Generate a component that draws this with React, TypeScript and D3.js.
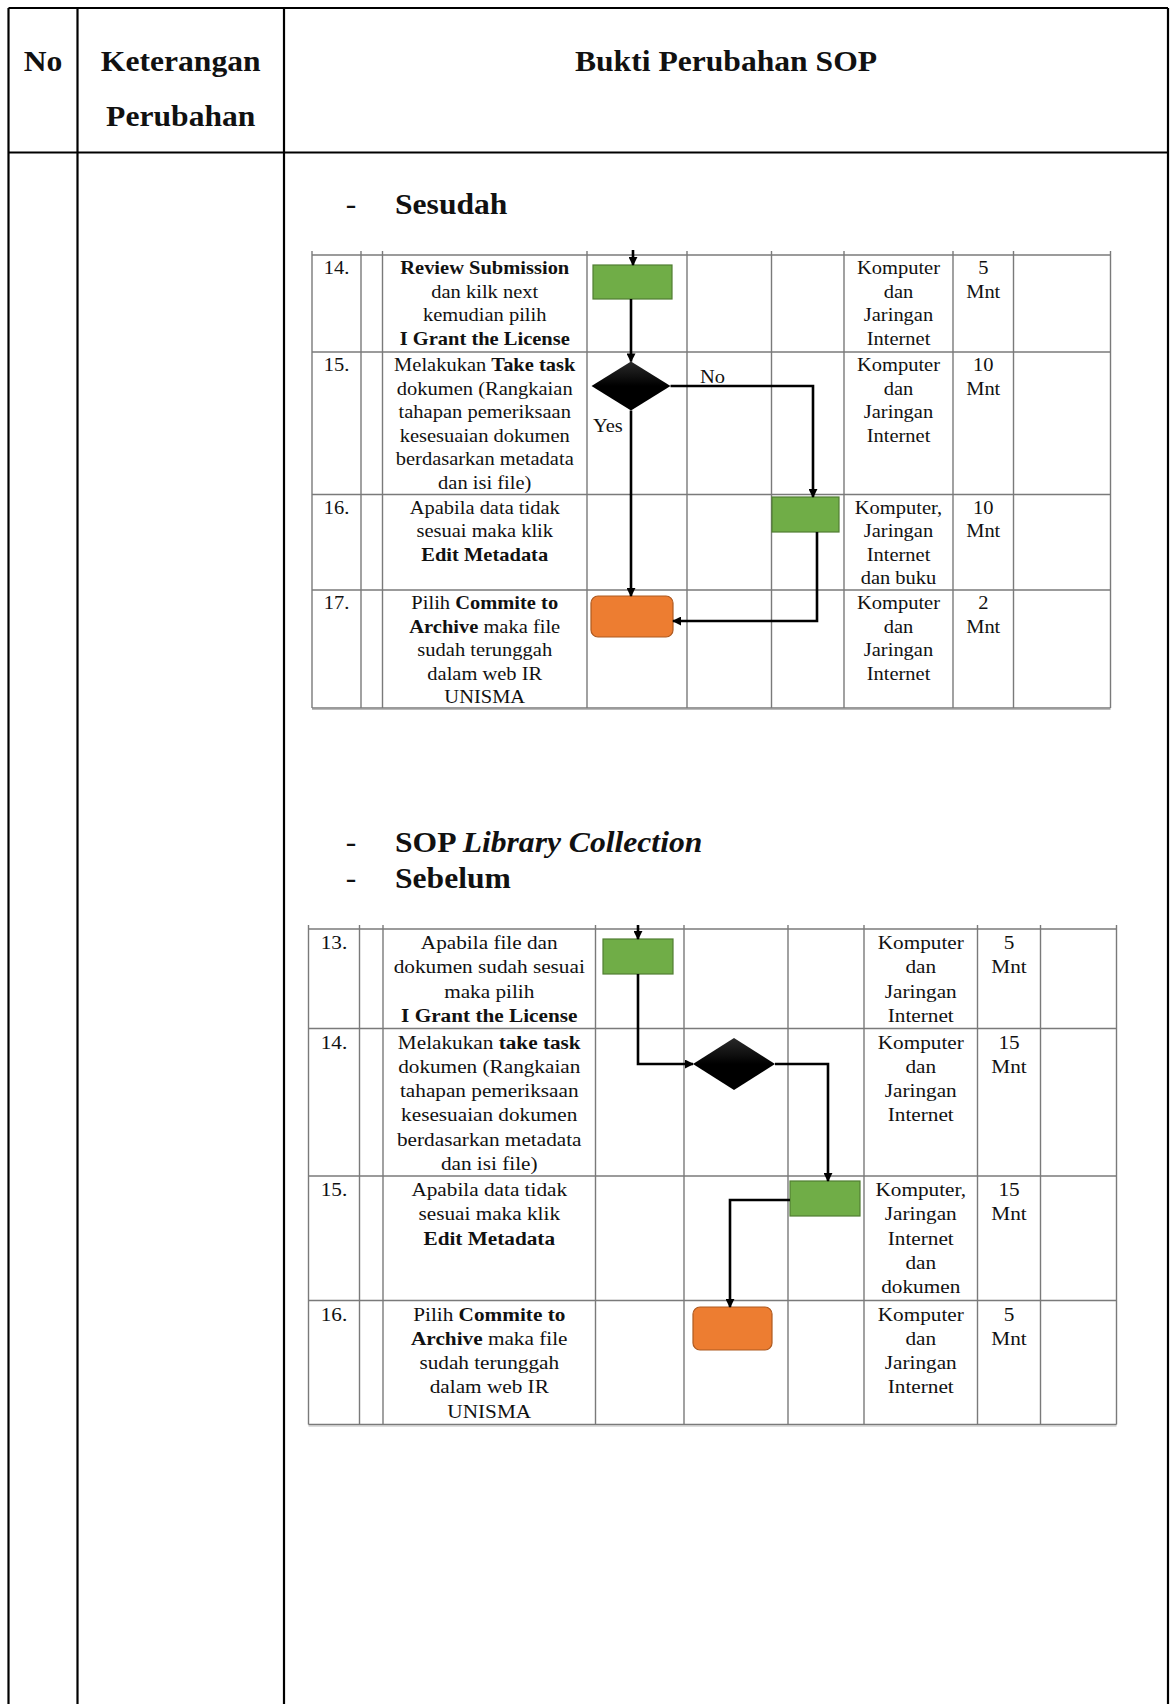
import React from "react";
import * as d3 from "d3";

// ---------- data ----------
const headerLabels = ["No", "Keterangan", "Perubahan", "Bukti Perubahan SOP"];
const sectionAfter = ["Sesudah"];
const sectionBefore = ["SOP ", "Library Collection", "Sebelum"];
const flowLabels = ["Yes", "No"];

const afterNo = ["14.", "15.", "16.", "17."];
const afterDesc = [
  ["**Review Submission**", "dan kilk next", "kemudian pilih", "**I Grant the License**"],
  ["Melakukan **Take task**", "dokumen (Rangkaian", "tahapan pemeriksaan", "kesesuaian dokumen", "berdasarkan metadata", "dan isi file)"],
  ["Apabila data tidak", "sesuai maka klik", "**Edit Metadata**"],
  ["Pilih **Commite to**", "**Archive** maka file", "sudah terunggah", "dalam web IR", "UNISMA"],
];
const afterRes = [
  ["Komputer", "dan", "Jaringan", "Internet"],
  ["Komputer", "dan", "Jaringan", "Internet"],
  ["Komputer,", "Jaringan", "Internet", "dan buku"],
  ["Komputer", "dan", "Jaringan", "Internet"],
];
const afterTime = [["5", "Mnt"], ["10", "Mnt"], ["10", "Mnt"], ["2", "Mnt"]];

const beforeNo = ["13.", "14.", "15.", "16."];
const beforeDesc = [
  ["Apabila file dan", "dokumen sudah sesuai", "maka pilih", "**I Grant the License**"],
  ["Melakukan **take task**", "dokumen (Rangkaian", "tahapan pemeriksaan", "kesesuaian dokumen", "berdasarkan metadata", "dan isi file)"],
  ["Apabila data tidak", "sesuai maka klik", "**Edit Metadata**"],
  ["Pilih **Commite to**", "**Archive** maka file", "sudah terunggah", "dalam web IR", "UNISMA"],
];
const beforeRes = [
  ["Komputer", "dan", "Jaringan", "Internet"],
  ["Komputer", "dan", "Jaringan", "Internet"],
  ["Komputer,", "Jaringan", "Internet", "dan", "dokumen"],
  ["Komputer", "dan", "Jaringan", "Internet"],
];
const beforeTime = [["5", "Mnt"], ["15", "Mnt"], ["15", "Mnt"], ["5", "Mnt"]];

// ---------- layout ----------
const W = 1170;
const H = 1704;
const SX = 1.09;
const FONT = '"Liberation Serif","Times New Roman",Times,serif';
const GREEN = "#70ad47";
const GREEN_S = "#507e32";
const ORANGE = "#ed7d31";
const ORANGE_S = "#ae5a21";
const GRID = "#7a7a7a";

const outer = { left: 8.5, right: 1168, top: 8, header: 152.5, cols: [77.5, 284] };

const afterLayout = {
  rows: [255, 352, 494.5, 590, 708],
  cols: [312, 361, 382.5, 587, 687, 771.5, 844, 953, 1013.5, 1110.5],
  fs: 18.8,
  lh: 23.6,
  first: 19,
};
const beforeLayout = {
  rows: [929, 1028.5, 1176, 1300.5, 1424.5],
  cols: [308.5, 359.5, 383, 595.5, 684, 788, 864, 977.5, 1040.5, 1116.5],
  fs: 19.5,
  lh: 24.3,
  first: 20,
};

const line = d3.line<[number, number]>();

function SText({ x, y, text, fs, anchor = "middle", weight = "normal", italic = false }: any) {
  const parts = String(text).split("**");
  return (
    <g transform={`translate(${x},${y}) scale(${SX},1)`}>
      <text
        textAnchor={anchor}
        fontSize={fs}
        fontFamily={FONT}
        fill="#111"
        fontStyle={italic ? "italic" : "normal"}
        fontWeight={weight}
      >
        {parts.map((p, i) => (
          <tspan key={i} fontWeight={i % 2 ? "bold" : weight}>
            {p}
          </tspan>
        ))}
      </text>
    </g>
  );
}

function Table({ L, no, desc, res, time }: any) {
  const { rows, cols, fs, lh, first } = L;
  const top = rows[0];
  const bottom = rows[rows.length - 1];
  const yScale = d3.scaleLinear().domain([0, lh]).range([0, lh]);
  return (
    <g>
      {rows.map((r: number, i: number) => (
        <line key={"r" + i} x1={cols[0]} x2={cols[cols.length - 1]} y1={r} y2={r} stroke={GRID} strokeWidth={1.4} />
      ))}
      <line x1={cols[0]} x2={cols[cols.length - 1]} y1={bottom + 1.5} y2={bottom + 1.5} stroke="#bbb" strokeWidth={1.2} />
      {cols.map((c: number, i: number) => (
        <line key={"c" + i} x1={c} x2={c} y1={top - 4} y2={bottom} stroke={GRID} strokeWidth={1.4} />
      ))}
      {no.map((n: string, i: number) => (
        <SText key={"n" + i} x={(cols[0] + cols[1]) / 2} y={rows[i] + first} text={n} fs={fs} />
      ))}
      {desc.map((lines: string[], i: number) =>
        lines.map((t, j) => (
          <SText key={"d" + i + "-" + j} x={(cols[2] + cols[3]) / 2} y={rows[i] + first + yScale(j * lh)} text={t} fs={fs} />
        ))
      )}
      {res.map((lines: string[], i: number) =>
        lines.map((t, j) => (
          <SText key={"s" + i + "-" + j} x={(cols[6] + cols[7]) / 2} y={rows[i] + first + j * lh} text={t} fs={fs} />
        ))
      )}
      {time.map((lines: string[], i: number) =>
        lines.map((t, j) => (
          <SText key={"t" + i + "-" + j} x={(cols[7] + cols[8]) / 2} y={rows[i] + first + j * lh} text={t} fs={fs} />
        ))
      )}
    </g>
  );
}

function Diamond({ cx, cy, hw, hh }: any) {
  const d = line([
    [cx, cy - hh],
    [cx + hw, cy],
    [cx, cy + hh],
    [cx - hw, cy],
  ]) + "Z";
  return <path d={d} fill="url(#dgrad)" />;
}

function Arrow({ pts }: any) {
  return <path d={line(pts) || ""} fill="none" stroke="#000" strokeWidth={2.6} markerEnd="url(#arr)" />;
}

export default function App() {
  return (
    <svg
      width={W}
      height={H}
      viewBox={`0 0 ${W} ${H}`}
      style={{ position: "absolute", left: 0, top: 0, background: "#fff", display: "block" }}
    >
      <defs>
        <marker id="arr" viewBox="0 0 10 10" refX="9" refY="5" markerWidth="9" markerHeight="9" markerUnits="userSpaceOnUse" orient="auto">
          <path d="M0,0 L10,5 L0,10 z" fill="#000" />
        </marker>
        <linearGradient id="dgrad" x1="0" y1="0" x2="0" y2="1">
          <stop offset="0" stopColor="#2a2a2a" />
          <stop offset="0.5" stopColor="#000" />
          <stop offset="1" stopColor="#000" />
        </linearGradient>
      </defs>
      <rect x={0} y={0} width={W} height={H} fill="#fff" />

      {/* outer table */}
      <g stroke="#000" strokeWidth={2.2}>
        <line x1={outer.left} x2={outer.right} y1={outer.top} y2={outer.top} />
        <line x1={outer.left} x2={outer.right} y1={outer.header} y2={outer.header} />
        <line x1={outer.left} x2={outer.left} y1={outer.top} y2={H} />
        <line x1={outer.right} x2={outer.right} y1={outer.top} y2={H} />
        {outer.cols.map((c, i) => (
          <line key={i} x1={c} x2={c} y1={outer.top} y2={H} />
        ))}
      </g>
      <SText x={(outer.left + outer.cols[0]) / 2} y={71} text={headerLabels[0]} fs={29} weight="bold" />
      <SText x={(outer.cols[0] + outer.cols[1]) / 2} y={71} text={headerLabels[1]} fs={29} weight="bold" />
      <SText x={(outer.cols[0] + outer.cols[1]) / 2} y={126} text={headerLabels[2]} fs={29} weight="bold" />
      <SText x={(outer.cols[1] + outer.right) / 2} y={71} text={headerLabels[3]} fs={29} weight="bold" />

      {/* section titles */}
      <SText x={351} y={214} text="-" fs={29} />
      <SText x={395} y={214} text={sectionAfter[0]} fs={29} weight="bold" anchor="start" />
      <SText x={351} y={852} text="-" fs={29} />
      <g transform={`translate(395,852) scale(${SX},1)`}>
        <text fontSize={29} fontFamily={FONT} fontWeight="bold" fill="#111">
          <tspan>{sectionBefore[0]}</tspan>
          <tspan fontStyle="italic">{sectionBefore[1]}</tspan>
        </text>
      </g>
      <SText x={351} y={888} text="-" fs={29} />
      <SText x={395} y={888} text={sectionBefore[2]} fs={29} weight="bold" anchor="start" />

      {/* after table */}
      <Table L={afterLayout} no={afterNo} desc={afterDesc} res={afterRes} time={afterTime} />
      <rect x={593} y={265} width={79} height={34} fill={GREEN} stroke={GREEN_S} strokeWidth={1.2} />
      <rect x={772} y={497} width={67} height={35} fill={GREEN} stroke={GREEN_S} strokeWidth={1.2} />
      <rect x={591} y={596} width={82} height={41} rx={7} fill={ORANGE} stroke={ORANGE_S} strokeWidth={1.2} />
      <Diamond cx={631} cy={386} hw={39.5} hh={24.5} />
      <Arrow pts={[[633, 250], [633, 265]]} />
      <Arrow pts={[[631, 299], [631, 361.5]]} />
      <Arrow pts={[[670.5, 386], [813, 386], [813, 497]]} />
      <Arrow pts={[[631, 410.5], [631, 596]]} />
      <Arrow pts={[[817, 532], [817, 621], [673, 621]]} />
      <SText x={593} y={432} text={flowLabels[0]} fs={18.8} anchor="start" />
      <SText x={700} y={383} text={flowLabels[1]} fs={18.8} anchor="start" />

      {/* before table */}
      <Table L={beforeLayout} no={beforeNo} desc={beforeDesc} res={beforeRes} time={beforeTime} />
      <rect x={603} y={939} width={70} height={35} fill={GREEN} stroke={GREEN_S} strokeWidth={1.2} />
      <rect x={790} y={1181} width={70} height={35} fill={GREEN} stroke={GREEN_S} strokeWidth={1.2} />
      <rect x={693} y={1307} width={79} height={43} rx={7} fill={ORANGE} stroke={ORANGE_S} strokeWidth={1.2} />
      <Diamond cx={734} cy={1064} hw={41} hh={26} />
      <Arrow pts={[[638, 925], [638, 939]]} />
      <Arrow pts={[[638, 974], [638, 1064], [693, 1064]]} />
      <Arrow pts={[[775, 1064], [828, 1064], [828, 1181]]} />
      <Arrow pts={[[790, 1200], [730, 1200], [730, 1307]]} />
    </svg>
  );
}
